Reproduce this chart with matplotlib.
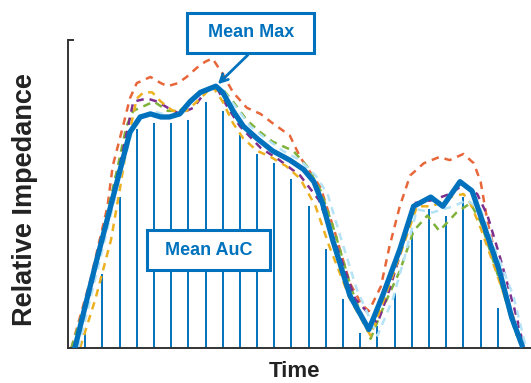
import matplotlib.pyplot as plt
from matplotlib.patches import Rectangle

# ---------- data (time in sample units, impedance in % of axis height) ----------
mean_t = [0.4, 1.6, 2.9, 3.6, 4.2, 4.8, 5.4, 5.9, 6.5, 7.1, 7.7, 8.6, 9.0, 9.6,
          10.2, 11.0, 11.9, 12.9, 13.7, 14.3, 14.8, 15.4, 16.4, 17.5, 18.3, 19.3,
          20.1, 21.1, 21.8, 22.8, 23.5, 24.3, 25.1, 25.8, 26.4]
mean_z = [0, 27, 55, 70, 75, 76, 75, 75, 76, 80, 83, 85, 83, 77,
          72, 68, 64, 61, 58, 54, 47, 35, 17, 6, 17, 32,
          46, 49, 46, 54, 51, 38, 25, 10, 1]

orange_t = [0.2, 1.3, 2.3, 2.6, 3.2, 3.6, 4.0, 4.8, 5.4, 5.8, 6.4, 6.9, 7.5, 8.0,
            8.4, 9.0, 9.6, 10.4, 11.2, 11.9, 12.9, 13.5, 14.1, 14.7, 15.5, 16.4,
            17.1, 17.5, 18.2, 18.7, 19.3, 19.9, 20.7, 21.6, 22.2, 23.0, 23.6,
            24.0, 24.4, 25.1, 25.9, 26.3]
orange_z = [0, 22, 46, 59, 72, 81, 86, 88, 86, 85, 86, 88, 91, 93,
            94, 89, 83, 78, 76, 73, 69, 62, 57, 52, 38, 21,
            14, 12, 20, 33, 46, 56, 60, 62, 61, 63, 60,
            54, 41, 25, 10, 2]

yellow_t = [0.7, 1.6, 2.5, 3.0, 3.5, 4.0, 4.4, 4.9, 5.4, 6.1, 6.9, 7.7, 8.4, 9.0,
            9.6, 10.2, 11.0, 11.8, 12.7, 13.5, 14.4, 15.2, 16.4, 17.6, 18.4,
            19.3, 20.3, 21.2, 22.2, 23.0, 23.4, 24.0, 24.7, 25.5, 26.3]
yellow_z = [0, 16, 35, 51, 68, 81, 83, 83, 80, 77, 77, 81, 85, 80,
            73, 68, 64, 62, 59, 55, 46, 33, 16, 4, 16,
            30, 46, 46, 49, 50, 47, 39, 28, 15, 2]

green_t = [0.2, 1.3, 2.3, 2.9, 3.4, 3.8, 4.2, 5.0, 5.8, 6.5, 7.3, 8.3, 9.0, 9.6,
           10.4, 11.2, 11.9, 13.1, 13.9, 14.7, 15.5, 16.5, 17.6, 18.4, 19.3,
           20.1, 20.9, 21.6, 22.6, 23.4, 24.0, 25.1, 26.1]
green_z = [0, 20, 44, 59, 72, 77, 78, 80, 77, 77, 81, 85, 84, 80,
           74, 70, 67, 64, 59, 51, 38, 19, 3, 14, 25,
           38, 43, 38, 44, 47, 41, 22, 4]

purple_t = [0.4, 1.4, 2.3, 3.0, 3.5, 3.8, 4.6, 5.2, 5.8, 6.5, 7.3, 8.1, 8.7, 9.3,
            10.0, 11.2, 12.3, 13.5, 14.6, 15.5, 16.7, 18.0, 18.7, 19.3, 20.1,
            21.2, 22.2, 23.0, 23.8, 24.4, 25.1, 26.1, 26.4]
purple_z = [0, 20, 43, 59, 72, 80, 81, 80, 78, 76, 78, 84, 84, 78,
            72, 65, 61, 56, 48, 35, 16, 8, 19, 30, 47,
            48, 50, 53, 50, 43, 30, 10, 3]

cyan_t = [0.6, 1.7, 3.0, 3.7, 4.3, 4.9, 5.5, 6.1, 6.6, 7.2, 7.8, 8.6, 9.1, 9.8,
          10.6, 11.5, 12.5, 13.5, 14.4, 15.1, 15.8, 16.8, 18.0, 18.9, 19.6,
          20.3, 21.2, 22.4, 23.2, 24.0, 24.7, 25.9, 26.6]
cyan_z = [0, 25, 55, 70, 75, 77, 76, 75, 76, 80, 83, 85, 83, 78,
          72, 68, 64, 61, 56, 50, 37, 19, 4, 16, 30,
          45, 44, 46, 48, 45, 34, 17, 1]

# area-under-curve stems, one per sample
auc_t = list(range(1, 26))
auc_z = [5, 24, 49, 71, 73, 73, 74, 80, 77, 69, 63, 60, 55, 46, 32,
         16, 5, 7, 18, 38, 45, 43, 49, 35, 13]

BLUE = "#0072BD"
dashed = [
    (orange_t, orange_z, "#E8673A"),
    (green_t, green_z, "#7FB23A"),
    (purple_t, purple_z, "#7E2F8E"),
    (yellow_t, yellow_z, "#EDB120"),
    (cyan_t, cyan_z, "#B5E3F5"),
]

fig = plt.figure(figsize=(5.31, 3.83), dpi=100)
ax = fig.add_axes([0.128, 0.0914, 0.872, 0.8042])

ax.vlines(auc_t, 0, auc_z, color=BLUE, lw=1.4, zorder=1)

for t, z, c in dashed:
    ax.plot(t, z, color=c, lw=1.8, dashes=(3.0, 2.4), zorder=2)

ax.plot(mean_t, mean_z, color=BLUE, lw=3.8, solid_joinstyle="round", zorder=3)

ax.set_xlim(0, 26.93)
ax.set_ylim(0, 100)

# axis styling
for s in ["top", "right"]:
    ax.spines[s].set_visible(False)
for s in ["left", "bottom"]:
    ax.spines[s].set_color("#333333")
    ax.spines[s].set_linewidth(1.4)
ax.set_xticks([])
ax.set_yticks([100])
ax.set_yticklabels([])
ax.tick_params(axis="y", direction="in", length=4, width=1.4, color="#333333")

# Mean AuC box
ax.add_patch(Rectangle((0.171, 0.253), 0.2655, 0.13, transform=ax.transAxes,
                       fc="white", ec=BLUE, lw=2.2, zorder=5))
ax.text(0.304, 0.318, "Mean AuC", transform=ax.transAxes, ha="center", va="center",
        fontsize=13, fontweight="bold", color=BLUE, family="Liberation Sans", zorder=6)

# Mean Max box + arrow to peak of mean curve
imax = mean_z.index(max(mean_z))
ax.add_patch(Rectangle((0.257, 0.958), 0.275, 0.13, transform=ax.transAxes,
                       fc="white", ec=BLUE, lw=2.2, zorder=5, clip_on=False))
ax.text(0.395, 1.023, "Mean Max", transform=ax.transAxes, ha="center", va="center",
        fontsize=13, fontweight="bold", color=BLUE, family="Liberation Sans", zorder=6)
ax.annotate("", xy=(mean_t[imax], mean_z[imax]), xytext=(0.393, 0.958),
            textcoords="axes fraction",
            arrowprops=dict(arrowstyle="->", color=BLUE, lw=2, mutation_scale=14),
            annotation_clip=False, zorder=6)

fig.text(0.047, 0.478, "Relative Impedance", rotation=90, ha="center", va="center",
         fontsize=19.5, fontweight="bold", color="#222222", family="Liberation Sans")
fig.text(0.554, 0.031, "Time", ha="center", va="center",
         fontsize=16, fontweight="bold", color="#222222", family="Liberation Sans")

fig.savefig("out.png", dpi=100)
